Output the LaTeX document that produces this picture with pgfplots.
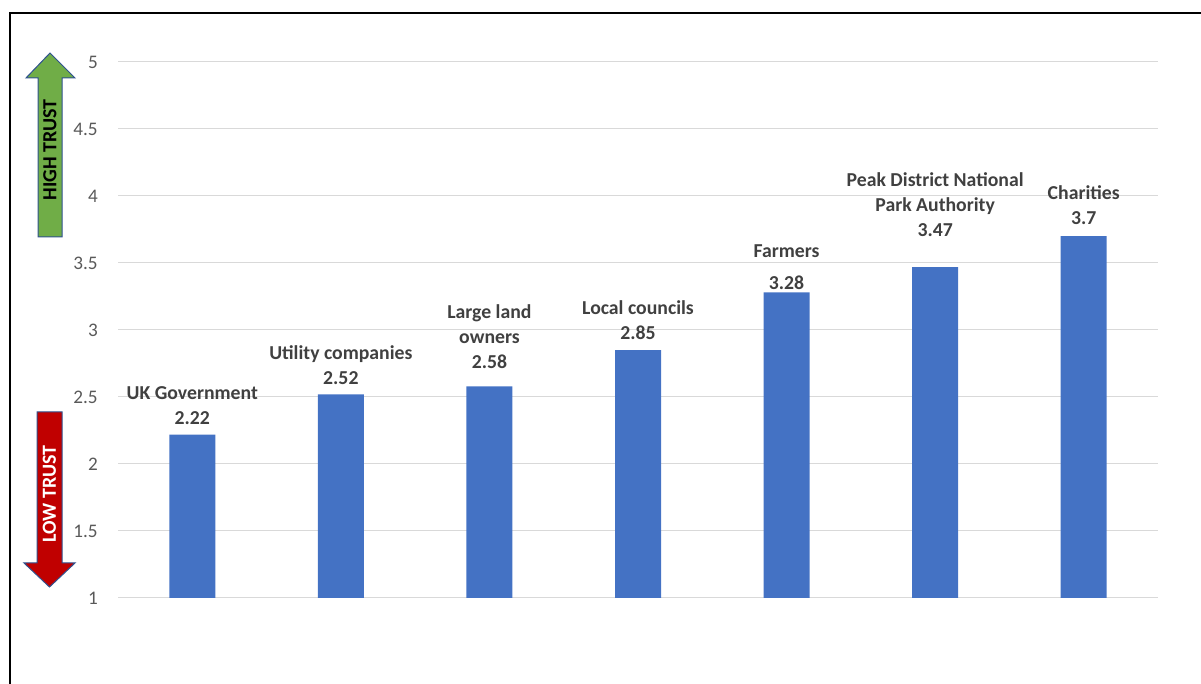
\documentclass[border=0pt]{standalone}
\usepackage{fontspec}
\setmainfont{Carlito}
\usepackage{pgfplots}
\usepackage{pgfplotstable}
\pgfplotsset{compat=1.18}

\definecolor{barblue}{HTML}{4472C4}
\definecolor{gridgray}{HTML}{D9D9D9}
\definecolor{ticktext}{HTML}{595959}
\definecolor{labeltext}{HTML}{404040}
\definecolor{upgreen}{HTML}{70AD47}
\definecolor{downred}{HTML}{C00000}
\definecolor{shapeedge}{HTML}{2F528F}

% line break inside a label, kept unexpanded until the node is typeset
\protected\def\nl{\\}

% mean trust score per group; gap = label offset above the bar (pt),
% extra = additional space between name and value (pt)
\pgfplotstableread[col sep=comma]{
pos,score,gap,extra,name
0,2.22,7.5,0,UK Government
1,2.52,6.75,0,Utility companies
2,2.58,12.75,0,Large land\nl owners
3,2.85,7.5,0,Local councils
4,3.28,2.25,5.25,Farmers
5,3.47,22.5,0,Peak District National\nl Park Authority
6,3.7,8.25,0,Charities
}\trustdata

\begin{document}
\begin{tikzpicture}
\useasboundingbox (0,0) rectangle (900.75pt,513pt);
\clip (0,0) rectangle (900.75pt,513pt);

% frame and trust arrows (1 unit = 1 px, y downwards)
\begin{scope}[x=0.75pt,y=-0.75pt,yshift=513pt]
  \draw[line width=1.5pt] (9.5,720) -- (9.5,13) -- (1230,13);
  \filldraw[fill=upgreen, draw=shapeedge, line width=0.75pt]
    (38,237) -- (38,78) -- (26,78) -- (50,53) -- (75,78) -- (62,78) -- (62,237) -- cycle;
  \node[rotate=90, font=\fontsize{15}{17}\selectfont\bfseries, text=black] at (50,150) {HIGH TRUST};
  \filldraw[fill=downred, draw=shapeedge, line width=0.75pt]
    (37,412) -- (62,412) -- (62,563) -- (75,563) -- (49.5,587) -- (24,563) -- (37,563) -- cycle;
  \node[rotate=90, font=\fontsize{15}{17}\selectfont\bfseries, text=white] at (49.5,494) {LOW TRUST};
\end{scope}

\begin{axis}[
  at={(88.5pt,64.5pt)}, anchor=south west,
  scale only axis, width=780pt, height=402pt,
  xmin=-0.5, xmax=6.5, ymin=1, ymax=5,
  axis line style={draw=none},
  xtick=\empty,
  ytick={1,1.5,2,2.5,3,3.5,4,4.5,5},
  ymajorgrids,
  grid style={gridgray, line width=0.75pt},
  major tick length=0pt,
  /pgf/number format/assume math mode=true,
  yticklabel style={font=\fontsize{14.4}{17}\selectfont, text=ticktext,
    anchor=east, inner sep=0pt, xshift=-15pt},
  ybar, bar width=34.5pt,
]
\addplot[
  fill=barblue, draw=none, bar shift=0pt,
  point meta=explicit symbolic,
  visualization depends on={\thisrow{score}\as\val},
  visualization depends on={\thisrow{gap}\as\gap},
  visualization depends on={\thisrow{extra}\as\extrasp},
  nodes near coords={\pgfplotspointmeta\\[\extrasp pt]\pgfmathprintnumber[fixed,precision=2]{\val}},
  every node near coord/.append style={
    font=\fontsize{14.8}{18.75}\selectfont\bfseries, text=labeltext,
    align=center, anchor=south, inner sep=0pt, yshift=\gap pt},
] table[x=pos, y=score, meta=name] {\trustdata};
\end{axis}
\end{tikzpicture}
\end{document}
